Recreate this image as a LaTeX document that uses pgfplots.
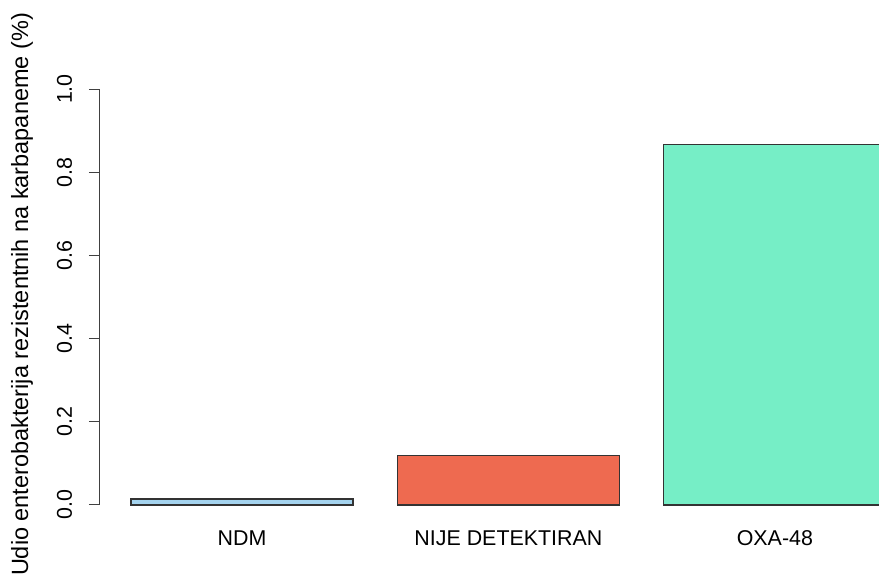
\documentclass[border=0pt]{standalone}
\usepackage{pgfplots}
\pgfplotsset{compat=1.18}
\usepackage{fontspec}
\setmainfont{Liberation Sans}
\definecolor{cndm}{HTML}{A4D3EE}
\definecolor{cnije}{HTML}{EE6A50}
\definecolor{coxa}{HTML}{76EEC6}
\definecolor{edge}{HTML}{333333}
\begin{document}
\begin{tikzpicture}[x=1pt,y=1pt]
\useasboundingbox (0,0) rectangle (879,578);
\begin{axis}[
  at={(99pt,56.4pt)}, anchor=south west,
  scale only axis, width=780pt, height=449.2pt,
  xmin=0.056, xmax=3.569, ymin=-0.04, ymax=1.04,
  axis x line*=bottom, axis y line*=left,
  x axis line style={draw=none}, y axis line style={draw=none},
  xtick={0.7,1.9,3.1},
  xticklabels={NDM,NIJE DETEKTIRAN,OXA-48},
  xtick style={draw=none},
  xticklabel style={anchor=base, yshift=-14pt},
  ytick={0,0.2,0.4,0.6,0.8,1.0},
  yticklabel style={/pgf/number format/fixed, /pgf/number format/precision=1, /pgf/number format/fixed zerofill, /pgf/number format/assume math mode=true},
  yticklabel style={xshift=-17pt, rotate=90, anchor=base},
  tick align=outside, major tick length=10pt,
  ytick style={draw=black!75, line width=1pt},
  ylabel={Udio enterobakterija rezistentnih na karbapaneme (\%)},
  ylabel style={at={(axis description cs:-0.091,0.5056)}, anchor=base, rotate=0},
  tick label style={font=\fontsize{21.4}{25}\selectfont},
  label style={font=\fontsize{23.5}{27}\selectfont},
  ybar, bar width=1, bar shift=0pt,
  clip=true,
]
\addplot[fill=cndm, draw=edge, line width=1.2pt] coordinates {(0.7,0.0145)};
\addplot[fill=cnije, draw=edge, line width=1.2pt] coordinates {(1.9,0.1195)};
\addplot[fill=coxa, draw=edge, line width=1.2pt] coordinates {(3.1,0.8675)};
\draw[black!75, line width=1pt] (axis cs:0.056,0) -- (axis cs:0.056,1);
\end{axis}
\end{tikzpicture}
\end{document}
